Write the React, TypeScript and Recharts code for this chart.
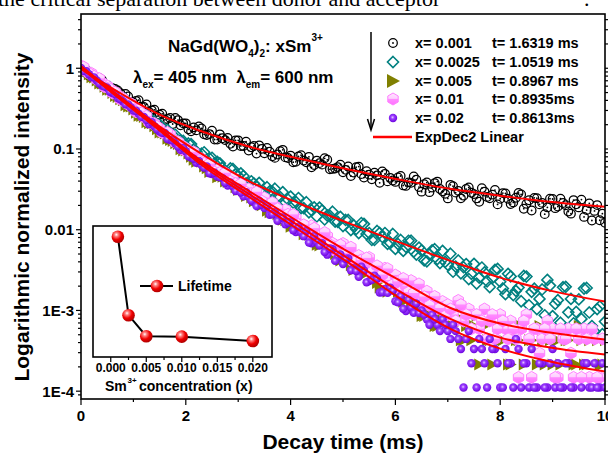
import { ComposedChart, LineChart, Line, Scatter, XAxis, YAxis } from 'recharts'

// decay curves, read every 0.1 ms plus the samples in between
const DECAY_TIME = [
  0, 0.1, 0.2, 0.3, 0.4, 0.5, 0.6, 0.7, 0.8, 0.9,
  1, 1.1, 1.2, 1.3, 1.4, 1.5, 1.6, 1.7, 1.8, 1.9,
  2, 2.1, 2.2, 2.3, 2.4, 2.5, 2.6, 2.7, 2.8, 2.9,
  3, 3.1, 3.2, 3.3, 3.4, 3.5, 3.6, 3.7, 3.8, 3.9,
  4, 4.1, 4.2, 4.3, 4.4, 4.5, 4.6, 4.7, 4.8, 4.9,
  5, 5.1, 5.2, 5.3, 5.4, 5.5, 5.6, 5.7, 5.8, 5.9,
  6, 6.1, 6.2, 6.3, 6.4, 6.5, 6.6, 6.7, 6.8, 6.9,
  7, 7.1, 7.2, 7.3, 7.4, 7.5, 7.6, 7.7, 7.8, 7.9,
  8, 8.1, 8.2, 8.3, 8.4, 8.5, 8.6, 8.7, 8.8, 8.9,
  9, 9.1, 9.2, 9.3, 9.4, 9.5, 9.6, 9.7, 9.8, 9.9,
  10,
]
const DECAY_TIME_MID = [
  0.05, 0.15, 0.25, 0.35, 0.45, 0.55, 0.65, 0.75, 0.85, 0.95,
  1.05, 1.15, 1.25, 1.35, 1.45, 1.55, 1.65, 1.75, 1.85, 1.95,
  2.05, 2.15, 2.25, 2.35, 2.45, 2.55, 2.65, 2.75, 2.85, 2.95,
  3.05, 3.15, 3.25, 3.35, 3.45, 3.55, 3.65, 3.75, 3.85, 3.95,
  4.05, 4.15, 4.25, 4.35, 4.45, 4.55, 4.65, 4.75, 4.85, 4.95,
  5.05, 5.15, 5.25, 5.35, 5.45, 5.55, 5.65, 5.75, 5.85, 5.95,
  6.05, 6.15, 6.25, 6.35, 6.45, 6.55, 6.65, 6.75, 6.85, 6.95,
  7.05, 7.15, 7.25, 7.35, 7.45, 7.55, 7.65, 7.75, 7.85, 7.95,
  8.05, 8.15, 8.25, 8.35, 8.45, 8.55, 8.65, 8.75, 8.85, 8.95,
  9.05, 9.15, 9.25, 9.35, 9.45, 9.55, 9.65, 9.75, 9.85, 9.95,
]

// x = 0.001
const I_X0010 = [
  0.979, 0.869, 0.838, 0.702, 0.718, 0.601, 0.565, 0.53, 0.446, 0.448,
  0.378, 0.402, 0.331, 0.288, 0.306, 0.266, 0.23, 0.242, 0.242, 0.197,
  0.208, 0.166, 0.17, 0.18, 0.149, 0.168, 0.131, 0.136, 0.137, 0.107,
  0.128, 0.109, 0.0957, 0.109, 0.111, 0.0883, 0.0927, 0.0776, 0.094, 0.0787,
  0.0828, 0.0693, 0.0839, 0.0686, 0.0593, 0.0719, 0.064, 0.0735, 0.0566, 0.0597,
  0.0515, 0.0608, 0.0511, 0.0605, 0.0442, 0.0481, 0.0508, 0.0381, 0.0492, 0.0439,
  0.0391, 0.0463, 0.0349, 0.0381, 0.0416, 0.0296, 0.0384, 0.0333, 0.0395, 0.0299,
  0.0244, 0.0346, 0.0303, 0.0264, 0.0334, 0.0276, 0.0222, 0.0297, 0.0245, 0.031,
  0.0242, 0.0282, 0.0208, 0.0249, 0.0274, 0.0209, 0.0173, 0.0246, 0.0215, 0.0189,
  0.024, 0.0194, 0.0214, 0.0168, 0.0233, 0.0189, 0.0144, 0.0212, 0.0171, 0.0131,
  0.0122,
]
const I_X0010_MID = [
  0.962, 0.805, 0.778, 0.752, 0.63, 0.557, 0.555, 0.493, 0.48, 0.384,
  0.395, 0.334, 0.356, 0.301, 0.255, 0.273, 0.236, 0.204, 0.228, 0.208,
  0.175, 0.185, 0.19, 0.152, 0.153, 0.131, 0.152, 0.129, 0.116, 0.128,
  0.109, 0.123, 0.105, 0.0877, 0.1005, 0.103, 0.0813, 0.0855, 0.0977, 0.0773,
  0.0686, 0.0807, 0.0718, 0.08, 0.0634, 0.0668, 0.0767, 0.056, 0.0573, 0.0638,
  0.0552, 0.0463, 0.0596, 0.0488, 0.0531, 0.0422, 0.0472, 0.0528, 0.0397, 0.0407,
  0.0445, 0.0354, 0.0386, 0.0458, 0.0337, 0.0366, 0.0292, 0.0378, 0.0319, 0.0278,
  0.036, 0.0288, 0.0245, 0.0319, 0.0287, 0.0244, 0.0327, 0.0255, 0.0272, 0.0206,
  0.0284, 0.0242, 0.0218, 0.0285, 0.0182, 0.0232, 0.0248, 0.0206, 0.0156, 0.0242,
  0.0185, 0.0242, 0.0201, 0.0158, 0.0207, 0.0236, 0.0175, 0.013, 0.0202, 0.0158,
]

// x = 0.0025
const I_X0025 = [
  1.037, 0.951, 0.802, 0.735, 0.693, 0.568, 0.492, 0.478, 0.415, 0.35,
  0.352, 0.288, 0.265, 0.224, 0.218, 0.201, 0.167, 0.143, 0.15, 0.128,
  0.11, 0.115, 0.0933, 0.0873, 0.0736, 0.0778, 0.0693, 0.0583, 0.0507, 0.0566,
  0.0465, 0.0463, 0.0369, 0.0374, 0.0381, 0.0293, 0.0299, 0.0322, 0.0254, 0.0219,
  0.0257, 0.0221, 0.0185, 0.0219, 0.0174, 0.0146, 0.0173, 0.015, 0.0167, 0.0125,
  0.0111, 0.0132, 0.0114, 0.0091, 0.0118, 0.0091, 0.00746, 0.00912, 0.0091, 0.00687,
  0.00578, 0.00746, 0.00614, 0.00731, 0.00492, 0.00553, 0.00406, 0.00556, 0.00433, 0.00546,
  0.00367, 0.00302, 0.00416, 0.00343, 0.00245, 0.00378, 0.00255, 0.00296, 0.00195, 0.00318,
  0.00227, 0.00159, 0.00264, 0.00175, 0.0013, 0.00263, 0.0017, 0.00104, 0.00182, 0.00239,
  0.000851, 0.00134, 0.00194, 0.000948, 0.000693, 0.00137, 0.00187, 0.000944, 0.000548, 0.00112,
  0.000728,
]
const I_X0025_MID = [
  0.953, 0.898, 0.778, 0.655, 0.635, 0.583, 0.479, 0.439, 0.415, 0.341,
  0.296, 0.28, 0.265, 0.23, 0.189, 0.175, 0.173, 0.149, 0.124, 0.126,
  0.117, 0.0979, 0.0839, 0.091, 0.0767, 0.0664, 0.0664, 0.0528, 0.0575, 0.0484,
  0.0498, 0.0374, 0.0398, 0.0341, 0.0294, 0.0336, 0.0297, 0.0255, 0.0292, 0.0237,
  0.0216, 0.0247, 0.0185, 0.0164, 0.0189, 0.0188, 0.0134, 0.0149, 0.0126, 0.0144,
  0.0132, 0.00991, 0.0102, 0.0121, 0.00885, 0.00746, 0.00964, 0.00813, 0.00667, 0.00885,
  0.00665, 0.00546, 0.00729, 0.00536, 0.00601, 0.00417, 0.00497, 0.00573, 0.00386, 0.00399,
  0.00504, 0.0035, 0.00288, 0.00375, 0.00284, 0.00215, 0.0034, 0.0023, 0.00252, 0.00327,
  0.00187, 0.00284, 0.00155, 0.00192, 0.00268, 0.00116, 0.00186, 0.00139, 0.000871, 0.00203,
  0.00121, 0.000705, 0.00196, 0.00139, 0.000959, 0.000785, 0.0019, 0.000641, 0.00104, 0.000509,
]

// x = 0.005 (empty channels are null)
const I_X0050 = [
  1.009, 0.92, 0.773, 0.706, 0.646, 0.541, 0.495, 0.44, 0.402, 0.337,
  0.308, 0.258, 0.249, 0.208, 0.191, 0.16, 0.155, 0.129, 0.118, 0.0991,
  0.0957, 0.0804, 0.0693, 0.0693, 0.0577, 0.0538, 0.0448, 0.0454, 0.0389, 0.0395,
  0.031, 0.0306, 0.0303, 0.0225, 0.0223, 0.0221, 0.0164, 0.0172, 0.0175, 0.0131,
  0.0109, 0.0128, 0.0101, 0.0111, 0.00783, 0.0065, 0.00762, 0.00598, 0.00702, 0.00465,
  0.00458, 0.00492, 0.00318, 0.00395, 0.00279, 0.00366, 0.00251, 0.00192, 0.0026, 0.00183,
  0.00193, 0.0015, 0.00171, 0.00107, 0.00128, 0.000856, 0.0015, 0.00107, 0.000642, 0.00107,
  0.000856, 0.000642, 0.00107, 0.000428, 0.000856, 0.000642, 0.000214, 0.000642, 0.000428, 0.000856,
  0.000428, 0.000642, 0.000214, 0.000428, 0.000642, null, 0.000428, 0.000214, 0.000428, 0.000642,
  0.000214, 0.000428, null, 0.000428, 0.000214, 0.000642, 0.000214, 0.000428, null, 0.000214,
  0.000428,
]
const I_X0050_MID = [
  0.923, 0.843, 0.771, 0.646, 0.592, 0.54, 0.453, 0.414, 0.348, 0.336,
  0.281, 0.257, 0.215, 0.208, 0.175, 0.16, 0.134, 0.126, 0.115, 0.0959,
  0.0877, 0.0736, 0.0733, 0.0605, 0.0519, 0.0526, 0.0463, 0.0397, 0.0415, 0.0335,
  0.0321, 0.0261, 0.025, 0.0262, 0.0201, 0.0172, 0.0186, 0.0155, 0.0133, 0.0148,
  0.0113, 0.0125, 0.00879, 0.00869, 0.00908, 0.00637, 0.00684, 0.00716, 0.00502, 0.00417,
  0.00502, 0.00363, 0.00404, 0.00283, 0.00306, 0.0033, 0.00219, 0.00257, 0.00171, 0.00195,
  0.00171, 0.00128, 0.0015, 0.00107, 0.00128, 0.000856, 0.00107, 0.000642, 0.000856, 0.00107,
  0.000642, 0.000856, 0.000428, 0.000642, 0.000428, 0.000856, 0.000642, 0.000428, 0.000214, 0.000642,
  0.000428, 0.000214, 0.000642, 0.000428, 0.000214, 0.000428, null, 0.000642, 0.000214, 0.000428,
  0.000428, 0.000214, 0.000428, null, 0.000214, 0.000428, 0.000214, null, 0.000428, 0.000214,
]

// x = 0.01
const I_X0100 = [
  1.067, 0.92, 0.865, 0.726, 0.664, 0.605, 0.494, 0.465, 0.425, 0.356,
  0.325, 0.305, 0.249, 0.215, 0.207, 0.179, 0.155, 0.151, 0.12, 0.113,
  0.103, 0.0845, 0.0798, 0.0757, 0.0631, 0.0542, 0.0551, 0.0488, 0.0418, 0.0439,
  0.0356, 0.0305, 0.032, 0.0275, 0.0224, 0.0249, 0.0197, 0.0196, 0.0159, 0.0177,
  0.0136, 0.0139, 0.0104, 0.011, 0.0112, 0.00841, 0.00706, 0.00834, 0.00681, 0.00571,
  0.00675, 0.00491, 0.00402, 0.00479, 0.00372, 0.00453, 0.00332, 0.00258, 0.00333, 0.00237,
  0.00274, 0.00179, 0.00202, 0.00234, 0.00153, 0.00126, 0.00173, 0.00131, 0.00105, 0.00129,
  0.00118, 0.000888, 0.00133, 0.00074, 0.00104, 0.000888, 0.000592, 0.00104, 0.00074, 0.000444,
  0.000888, 0.000592, 0.00074, 0.000444, 0.000592, 0.000888, 0.000148, 0.000592, 0.000444, 0.00074,
  0.000592, 0.000148, 0.000444, 0.000592, 0.000148, 0.000444, 0.000592, 0.000148, 0.000444, 0.000148,
  0.000444,
]
const I_X0100_MID = [
  1.033, 0.867, 0.793, 0.745, 0.59, 0.555, 0.507, 0.413, 0.378, 0.366,
  0.289, 0.279, 0.255, 0.208, 0.19, 0.16, 0.16, 0.131, 0.123, 0.0977,
  0.0948, 0.092, 0.0713, 0.0662, 0.0655, 0.0516, 0.0511, 0.0506, 0.0398, 0.0373,
  0.0369, 0.0291, 0.0281, 0.0294, 0.0226, 0.0195, 0.0217, 0.0182, 0.0144, 0.0155,
  0.0154, 0.0115, 0.0115, 0.00883, 0.0104, 0.00826, 0.00923, 0.00653, 0.00547, 0.00647,
  0.00513, 0.00607, 0.00408, 0.00422, 0.00446, 0.003, 0.00357, 0.00277, 0.00329, 0.00209,
  0.00228, 0.00249, 0.00168, 0.00164, 0.00213, 0.00148, 0.00115, 0.00149, 0.00107, 0.000853,
  0.00104, 0.00074, 0.00118, 0.000888, 0.000592, 0.000888, 0.00074, 0.000444, 0.000888, 0.000592,
  0.00074, 0.000444, 0.000592, 0.000148, 0.00074, 0.000444, 0.000592, 0.000296, 0.000592, 0.000444,
  0.000148, 0.000592, 0.000444, 0.000296, 0.000592, 0.000148, 0.000444, 0.000592, 0.000148, 0.000444,
]

// x = 0.02
const I_X0200 = [
  1.009, 0.92, 0.774, 0.706, 0.611, 0.573, 0.494, 0.428, 0.39, 0.356,
  0.299, 0.273, 0.249, 0.203, 0.191, 0.164, 0.158, 0.129, 0.117, 0.0975,
  0.094, 0.0785, 0.0675, 0.0635, 0.0608, 0.049, 0.0456, 0.0436, 0.0352, 0.0346,
  0.0331, 0.0259, 0.0255, 0.0218, 0.0228, 0.0185, 0.0153, 0.0165, 0.0141, 0.0117,
  0.0126, 0.00938, 0.00927, 0.00966, 0.00679, 0.0071, 0.00681, 0.00491, 0.00574, 0.00452,
  0.00376, 0.0044, 0.00334, 0.00261, 0.00313, 0.00231, 0.00269, 0.00167, 0.00184, 0.00191,
  0.0013, 0.00151, 0.000982, 0.00109, 0.00122, 0.000999, 0.000777, 0.000888, 0.000666, 0.000777,
  0.000555, 0.000666, 0.000444, 0.000111, 0.000555, 0.000333, 0.000444, 0.000222, 0.000444, 0.000333,
  0.000111, 0.000333, 0.000222, 0.000444, 0.000111, 0.000222, 0.000333, 0.000111, 0.000222, 0.000111,
  0.000333, 0.000222, 0.000111, 0.000222, 0.000111, null, 0.000222, 0.000111, 0.000222, 0.000111,
  0.000111,
]
const I_X0200_MID = [
  0.925, 0.843, 0.771, 0.647, 0.592, 0.511, 0.479, 0.414, 0.357, 0.326,
  0.297, 0.25, 0.228, 0.214, 0.175, 0.159, 0.133, 0.128, 0.107, 0.103,
  0.0811, 0.0759, 0.0713, 0.0587, 0.0501, 0.0507, 0.0446, 0.038, 0.0385, 0.0302,
  0.0289, 0.0292, 0.0229, 0.0196, 0.0205, 0.0196, 0.0155, 0.0129, 0.0142, 0.0122,
  0.00984, 0.0109, 0.00832, 0.00693, 0.00834, 0.00637, 0.0053, 0.00586, 0.00411, 0.00495,
  0.00437, 0.00314, 0.00308, 0.00349, 0.00223, 0.00239, 0.00248, 0.00168, 0.00165, 0.00176,
  0.00126, 0.00105, 0.00136, 0.000933, 0.000929, 0.000888, 0.000666, 0.000777, 0.000555, 0.000666,
  0.000444, 0.000555, 0.000333, 0.000444, 0.000222, 0.000111, 0.000333, 0.000111, 0.000333, 0.000222,
  0.000111, 0.000222, 0.000111, 0.000333, 0.000222, 0.000111, 0.000111, 0.000222, 0.000111, 0.000222,
  0.000111, 0.000111, 0.000222, 0.000111, null, 0.000111, 0.000222, 0.000111, 0.000111, 0.000222,
]

// ExpDec2 fits
const FIT_TIME = [0, 0.74, 1.51, 2.27, 3.23, 4.18, 5.13, 6.09, 7.04, 8, 8.95, 10]
const FIT_X0010 = [0.98, 0.494, 0.264, 0.168, 0.106, 0.0755, 0.0552, 0.0415, 0.0321, 0.0264, 0.0222, 0.0192]
const FIT_X0025 = [1.037, 0.442, 0.188, 0.0896, 0.0392, 0.021, 0.0119, 0.00691, 0.00414, 0.00255, 0.00176, 0.00129]
const FIT_X0050 = [1.037, 0.429, 0.1725, 0.0694, 0.0271, 0.0109, 0.00426, 0.00171, 0.000793, 0.000461, 0.000347, 0.000284]
const FIT_X0100 = [1.067, 0.442, 0.1775, 0.0734, 0.0295, 0.0122, 0.00519, 0.00234, 0.00108, 0.000688, 0.000532, 0.000436]
const FIT_X0200 = [1.009, 0.417, 0.1677, 0.0655, 0.0249, 0.00972, 0.0038, 0.0014, 0.000596, 0.000337, 0.000233, 0.000175]

// inset: lifetime vs Sm3+ content
const CONC = [0.001, 0.0025, 0.005, 0.01, 0.02]
const LIFETIME = [1.6319, 1.0519, 0.8967, 0.8935, 0.8613]
const CONC_LABELS = ['0.001', '0.0025', '0.005', '0.01', '0.02']
const LIFETIME_LABELS = ['1.6319 ms', '1.0519 ms', '0.8967 ms', '0.8935ms', '0.8613ms']

const X_TICKS = [0, 1, 2, 3, 4, 5, 6, 7, 8, 9, 10]
const Y_TICKS = [
  0.00009, 0.0001, 0.0002, 0.0003, 0.0004, 0.0005, 0.0006, 0.0007, 0.0008, 0.0009,
  0.001, 0.002, 0.003, 0.004, 0.005, 0.006, 0.007, 0.008, 0.009,
  0.01, 0.02, 0.03, 0.04, 0.05, 0.06, 0.07, 0.08, 0.09,
  0.1, 0.2, 0.3, 0.4, 0.5, 0.6, 0.7, 0.8, 0.9,
  1, 2, 3, 4,
]
const Y_MAJOR = [0.0001, 0.001, 0.01, 0.1, 1]
const Y_MAJOR_LABELS = ['1E-4', '1E-3', '0.01', '0.1', '1']
const INSET_X_TICKS = [0, 0.0025, 0.005, 0.0075, 0.01, 0.0125, 0.015, 0.0175, 0.02]
const INSET_Y_TICKS = [0.8, 0.9, 1, 1.1, 1.2, 1.3, 1.4, 1.5, 1.6, 1.7]

const SANS = '"Liberation Sans", Arial, Helvetica, sans-serif'
const SERIF = '"Liberation Serif", "Times New Roman", serif'
const PLOT = { left: 81, right: 605, top: 14, bottom: 399 }
const RED = '#ff0000'

const toRows = (times: number[], values: (number | null)[]) =>
  times.map((t, i) => ({ t, v: values[i] })).filter((r) => r.v != null)

const decayRows = (main: (number | null)[], mid: (number | null)[]) =>
  toRows(DECAY_TIME, main).concat(toRows(DECAY_TIME_MID, mid))

// ---------- marker shapes ----------
const CircleDot = ({ cx, cy }: any) =>
  cx == null ? null : (
    <g>
      <circle cx={cx} cy={cy} r={4.3} fill="none" stroke="#000" strokeWidth={1.25} />
      <circle cx={cx} cy={cy} r={0.9} fill="#000" />
    </g>
  )

const Diamond = ({ cx, cy }: any) =>
  cx == null ? null : (
    <path
      d={`M${cx},${cy - 5.5}L${cx + 5.5},${cy}L${cx},${cy + 5.5}L${cx - 5.5},${cy}Z`}
      fill="none"
      stroke="#008080"
      strokeWidth={1.6}
    />
  )

const Triangle = ({ cx, cy, s = 6 }: any) =>
  cx == null ? null : (
    <path d={`M${cx - s + 1},${cy - s}L${cx + s},${cy}L${cx - s + 1},${cy + s}Z`} fill="#808000" />
  )

const Hexagon = ({ cx, cy }: any) =>
  cx == null ? null : (
    <path
      d={`M${cx},${cy - 6}L${cx + 5.2},${cy - 3}L${cx + 5.2},${cy + 3}L${cx},${cy + 6}L${cx - 5.2},${cy + 3}L${cx - 5.2},${cy - 3}Z`}
      fill="url(#hexPink)"
      stroke="#ff80ff"
      strokeWidth={1}
    />
  )

const VioletBall = ({ cx, cy }: any) =>
  cx == null ? null : <circle cx={cx} cy={cy} r={4.2} fill="url(#ballViolet)" />

const RedBall = ({ cx, cy }: any) =>
  cx == null ? null : <circle cx={cx} cy={cy} r={6.3} fill="url(#ballRed)" />

const SERIES = [
  { rows: decayRows(I_X0010, I_X0010_MID), shape: CircleDot },
  { rows: decayRows(I_X0025, I_X0025_MID), shape: Diamond },
  { rows: decayRows(I_X0050, I_X0050_MID), shape: Triangle },
  { rows: decayRows(I_X0100, I_X0100_MID), shape: Hexagon },
  { rows: decayRows(I_X0200, I_X0200_MID), shape: VioletBall },
]
const LEGEND_SHAPES = [CircleDot, Diamond, (p: any) => <Triangle {...p} s={7} />, Hexagon, VioletBall]

const FITS = [FIT_X0010, FIT_X0025, FIT_X0050, FIT_X0100, FIT_X0200].map((f) => toRows(FIT_TIME, f))

const INSET_ROWS = CONC.map((c, i) => ({ conc: c, tau: LIFETIME[i] }))

// ---------- axis ticks ----------
function MainYTick({ y, payload }: any) {
  const v = payload.value
  const idx = Y_MAJOR.findIndex((m) => Math.abs(m - v) / m < 1e-6)
  const len = idx >= 0 ? 5 : 3
  return (
    <g>
      <line x1={PLOT.left - len} x2={PLOT.left} y1={y} y2={y} stroke="#000" strokeWidth={1.2} />
      <line x1={PLOT.right} x2={PLOT.right + len} y1={y} y2={y} stroke="#000" strokeWidth={1.2} />
      {idx >= 0 && (
        <text x={74} y={y + 5.5} textAnchor="end" fontFamily={SANS} fontWeight="bold" fontSize={15} fill="#000">
          {Y_MAJOR_LABELS[idx]}
        </text>
      )}
    </g>
  )
}

function MainXTick({ x, payload }: any) {
  const v = payload.value
  const major = v % 2 === 0
  return (
    <g>
      <line x1={x} x2={x} y1={PLOT.bottom} y2={PLOT.bottom + (major ? 6 : 3)} stroke="#000" strokeWidth={1.2} />
      {major && (
        <text x={x} y={421} textAnchor="middle" fontFamily={SANS} fontWeight="bold" fontSize={15} fill="#000">
          {v}
        </text>
      )}
    </g>
  )
}

// inset plot box inside its own svg
const INSET = { left: 33, top: 11, right: 212, bottom: 142 }

function InsetXTick({ x, payload }: any) {
  const v = payload.value
  const major = Math.round(v / 0.0025) % 2 === 0
  return (
    <g>
      <line x1={x} x2={x} y1={INSET.bottom} y2={INSET.bottom + (major ? 5 : 3)} stroke="#000" strokeWidth={1.2} />
      {major && (
        <text x={x} y={157} textAnchor="middle" fontFamily={SANS} fontWeight="bold" fontSize={12} fill="#000">
          {v.toFixed(3)}
        </text>
      )}
    </g>
  )
}

function InsetYTick({ y, payload }: any) {
  const major = Math.round(payload.value * 10) % 2 === 0
  return <line x1={INSET.left} x2={INSET.left + (major ? 5 : 3)} y1={y} y2={y} stroke="#000" strokeWidth={1.2} />
}

function Overlay() {
  const rowY = [43, 62, 81, 99, 118]
  return (
    <svg width={608} height={454} style={{ position: 'absolute', left: 0, top: 0, pointerEvents: 'none' }}>
      <defs>
        <radialGradient id="ballRed" cx="0.38" cy="0.34" r="0.66">
          <stop offset="0" stopColor="#ffffff" />
          <stop offset="0.22" stopColor="#ff8080" />
          <stop offset="0.6" stopColor="#f00000" />
          <stop offset="1" stopColor="#b00000" />
        </radialGradient>
        <radialGradient id="ballViolet" cx="0.45" cy="0.42" r="0.6">
          <stop offset="0" stopColor="#e6ccff" />
          <stop offset="0.35" stopColor="#9a3cff" />
          <stop offset="1" stopColor="#6a00dd" />
        </radialGradient>
        <linearGradient id="hexPink" x1="0" y1="0" x2="0" y2="1">
          <stop offset="0" stopColor="#ffe4ff" />
          <stop offset="0.45" stopColor="#ffd0ff" />
          <stop offset="0.52" stopColor="#ff8cff" />
          <stop offset="1" stopColor="#ff70ff" />
        </linearGradient>
      </defs>

      {/* line of body text above the figure */}
      <text x={-2} y={6} fontFamily={SERIF} fontSize={22} fill="#000">
        the critical separation between donor and acceptor
      </text>
      <text x={584} y={6} fontFamily={SERIF} fontSize={22} fill="#000">
        .
      </text>

      {/* plot frame */}
      <rect
        x={PLOT.left}
        y={PLOT.top}
        width={PLOT.right - PLOT.left}
        height={PLOT.bottom - PLOT.top}
        fill="none"
        stroke="#000"
        strokeWidth={1.6}
      />

      {/* axis titles */}
      <text x={343} y={449} textAnchor="middle" fontFamily={SANS} fontWeight="bold" fontSize={21} fill="#000">
        Decay time (ms)
      </text>
      <text
        transform="translate(29,217) rotate(-90)"
        textAnchor="middle"
        fontFamily={SANS}
        fontWeight="bold"
        fontSize={21}
        fill="#000"
      >
        Logarithmic normalized intensity
      </text>

      {/* sample annotation */}
      <g fontFamily={SANS} fontWeight="bold" fill="#000">
        <text x={168} y={52} fontSize={17}>
          NaGd(WO<tspan fontSize={10} dy={5}>4</tspan>
          <tspan dy={-5}>)</tspan>
          <tspan fontSize={10} dy={5}>2</tspan>
          <tspan dy={-5}>: xSm</tspan>
          <tspan fontSize={10} dy={-11}>3+</tspan>
        </text>
        <text x={133} y={83} fontSize={17} style={{ whiteSpace: 'pre' }}>
          λ<tspan fontSize={10} dy={5}>ex</tspan>
          <tspan dy={-5}>= 405 nm  λ</tspan>
          <tspan fontSize={10} dy={5}>em</tspan>
          <tspan dy={-5}>= 600 nm</tspan>
        </text>
      </g>

      {/* legend */}
      <line x1={371} y1={32} x2={371} y2={129} stroke="#000" strokeWidth={1.5} />
      <polyline points="367.5,119 371,130 374.5,119" fill="none" stroke="#000" strokeWidth={1.5} />
      {rowY.map((y, i) => {
        const Shape = LEGEND_SHAPES[i]
        return (
          <g key={i}>
            <Shape cx={393} cy={y} />
            <text x={415} y={y + 5} fontFamily={SANS} fontWeight="bold" fontSize={14.5} fill="#000">
              x= {CONC_LABELS[i]}
            </text>
            <text x={492} y={y + 5} fontFamily={SANS} fontWeight="bold" fontSize={14.5} fill="#000">
              t= {LIFETIME_LABELS[i]}
            </text>
          </g>
        )
      })}
      <line x1={373} y1={137} x2={412} y2={137} stroke={RED} strokeWidth={2.5} />
      <text x={415} y={142} fontFamily={SANS} fontWeight="bold" fontSize={14.5} fill="#000">
        ExpDec2 Linear
      </text>

      {/* inset frame, legend and title */}
      <rect x={93} y={226} width={179} height={131} fill="none" stroke="#000" strokeWidth={1.6} />
      <line x1={140} y1={286} x2={173} y2={286} stroke="#000" strokeWidth={2.2} />
      <RedBall cx={157} cy={286} />
      <text x={178} y={291} fontFamily={SANS} fontWeight="bold" fontSize={14} fill="#000">
        Lifetime
      </text>
      <g fontFamily={SANS} fontWeight="bold" fill="#000">
        <text x={105} y={391} fontSize={14}>
          Sm
        </text>
        <text x={127.5} y={383} fontSize={8}>
          3+
        </text>
        <text x={139} y={391} fontSize={14}>
          concentration (x)
        </text>
      </g>
    </svg>
  )
}

export default function App() {
  const margin = { top: PLOT.top, right: 608 - PLOT.right, bottom: 15, left: PLOT.left - 60 }
  const xAxisProps = {
    dataKey: 't',
    type: 'number' as const,
    domain: [0, 10],
    ticks: X_TICKS,
    interval: 0 as const,
    height: 40,
    axisLine: false,
    tickLine: false,
    allowDataOverflow: true,
  }
  const yAxisProps = {
    dataKey: 'v',
    type: 'number' as const,
    scale: 'log' as const,
    domain: [0.00008, 4.7],
    ticks: Y_TICKS,
    interval: 0 as const,
    width: 60,
    axisLine: false,
    tickLine: false,
    allowDataOverflow: true,
  }

  return (
    <div
      style={{
        position: 'absolute',
        left: 0,
        top: 0,
        width: 608,
        height: 454,
        overflow: 'hidden',
        background: '#fff',
      }}
    >
      {/* measured decays */}
      <div style={{ position: 'absolute', left: 0, top: 0 }}>
        <ComposedChart width={608} height={454} margin={margin}>
          <XAxis {...xAxisProps} tick={(p: any) => <MainXTick {...p} />} />
          <YAxis {...yAxisProps} tick={(p: any) => <MainYTick {...p} />} />
          {SERIES.map((s, i) => (
            <Scatter
              key={i}
              data={s.rows}
              dataKey="v"
              shape={(p: any) => <s.shape {...p} />}
              isAnimationActive={false}
            />
          ))}
        </ComposedChart>
      </div>

      {/* ExpDec2 fits drawn above the markers */}
      <div style={{ position: 'absolute', left: 0, top: 0 }}>
        <ComposedChart width={608} height={454} margin={margin}>
          <XAxis {...xAxisProps} tick={false} />
          <YAxis {...yAxisProps} tick={false} />
          {FITS.map((rows, i) => (
            <Line
              key={i}
              data={rows}
              dataKey="v"
              type="monotone"
              stroke={RED}
              strokeWidth={2}
              dot={false}
              isAnimationActive={false}
            />
          ))}
        </ComposedChart>
      </div>

      {/* inset: lifetime vs concentration */}
      <div style={{ position: 'absolute', left: 60, top: 215 }}>
        <LineChart
          width={230}
          height={185}
          data={INSET_ROWS}
          margin={{ top: INSET.top, right: 230 - INSET.right, bottom: 0, left: INSET.left }}
        >
          <XAxis
            dataKey="conc"
            type="number"
            domain={[-0.0025, 0.0227]}
            ticks={INSET_X_TICKS}
            interval={0}
            height={43}
            axisLine={false}
            tickLine={false}
            allowDataOverflow
            tick={(p: any) => <InsetXTick {...p} />}
          />
          <YAxis
            type="number"
            domain={[0.743, 1.711]}
            ticks={INSET_Y_TICKS}
            interval={0}
            width={0}
            axisLine={false}
            tickLine={false}
            allowDataOverflow
            tick={(p: any) => <InsetYTick {...p} />}
          />
          <Line
            dataKey="tau"
            stroke="#000"
            strokeWidth={2}
            dot={(p: any) => <RedBall key={p.index} cx={p.cx} cy={p.cy} />}
            isAnimationActive={false}
          />
        </LineChart>
      </div>

      <Overlay />
    </div>
  )
}
